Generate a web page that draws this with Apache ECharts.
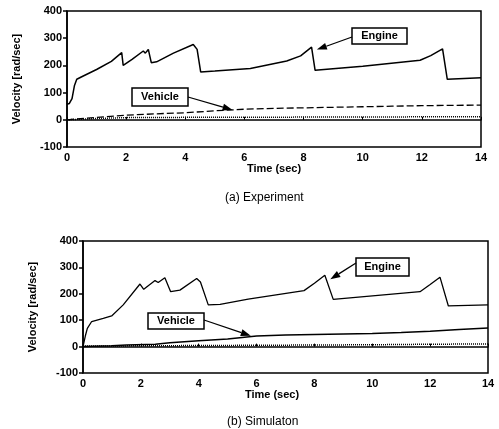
<!DOCTYPE html>
<html><head><meta charset="utf-8">
<script src="https://cdn.jsdelivr.net/npm/echarts@6/dist/echarts.min.js"></script>
<style>html,body{margin:0;padding:0;background:#fff}#c{width:499px;height:429px}</style>
</head><body><div id="c"></div>
<script>
// ---- Data ----
var xTicks = [0, 2, 4, 6, 8, 10, 12, 14];
var yTicks = [-100, 0, 100, 200, 300, 400];

// (a) Experiment
var expEngineT = [0, 0.08, 0.17, 0.25, 0.33, 0.55, 1.0, 1.5, 1.85, 1.9, 2.2, 2.58, 2.65, 2.75, 2.85, 3.03, 3.6, 4.27, 4.4, 4.52, 5.0, 6.2, 7.43, 7.9, 8.27, 8.39, 10.0, 11.94, 12.3, 12.7, 12.86, 14];
var expEngineV = [57, 60, 78, 125, 149, 161, 185, 215, 247, 200, 222, 253, 245, 259, 210, 213, 245, 277, 259, 176, 179, 189, 216, 235, 267, 182, 197, 219, 236, 261, 149, 155];
var expVehicleT = [0, 1, 2, 3, 4, 5, 6, 7, 8, 9, 10, 11, 12, 13, 14];
var expVehicleV = [0, 9, 17, 22, 26, 33, 39, 42, 44, 46, 48, 50, 52, 53, 54];
var expDotT = [0, 1, 2, 4, 6, 8, 10, 12, 14];
var expDotV = [0, 5, 8, 9, 9, 10, 10, 11, 11];

// (b) Simulation
var simEngineT = [0, 0.08, 0.15, 0.3, 0.7, 0.99, 1.39, 1.97, 2.1, 2.49, 2.6, 2.83, 3.03, 3.35, 3.93, 4.06, 4.33, 4.74, 5.71, 7.64, 8.0, 8.36, 8.65, 11.65, 12.0, 12.34, 12.63, 14];
var simEngineV = [0, 40, 69, 95, 107, 116, 158, 237, 217, 250, 243, 261, 208, 214, 258, 245, 158, 160, 180, 212, 240, 270, 179, 208, 235, 263, 154, 158];
var simVehicleT = [0, 1, 1.5, 2.5, 3, 4, 5, 6, 7, 8, 9, 10, 11, 12, 13, 14];
var simVehicleV = [0, 3, 6, 9, 15, 22, 29, 40, 44, 46, 48, 50, 53, 58, 65, 70];
var simDotT = [0, 2, 4, 6, 8, 10, 12, 14];
var simDotV = [2, 3, 4, 5, 6, 7, 9, 10];

// annotation targets (data units): [t, value]
var annotTargets = {
  expEngine: [8.45, 258], expVehicle: [5.6, 36],
  simEngine: [8.55, 255], simVehicle: [5.8, 41]
};

function pairs(t, v) { return t.map(function (x, i) { return [x, v[i]]; }); }

var FONT = 'Liberation Sans';
var labelStyle = { color: '#000', fontFamily: FONT, fontWeight: 'bold', fontSize: 11 };

function xAxis(gi, pad) {
  return {
    type: 'value', gridIndex: gi, min: 0, max: 14, interval: 2,
    name: 'Time (sec)', nameLocation: 'middle', nameGap: 15,
    nameTextStyle: { color: '#000', fontFamily: FONT, fontWeight: 'bold', fontSize: 11, padding: pad },
    axisLine: { show: true, lineStyle: { color: '#000', width: 1.5 } },
    axisTick: { show: true, inside: true, length: 3, lineStyle: { color: '#000' } },
    axisLabel: Object.assign({ margin: 5 }, labelStyle),
    splitLine: { show: false }
  };
}
function yAxis(gi) {
  return {
    type: 'value', gridIndex: gi, min: -100, max: 400, interval: 100,
    name: 'Velocity [rad/sec]', nameLocation: 'middle', nameGap: 45,
    nameTextStyle: { color: '#000', fontFamily: FONT, fontWeight: 'bold', fontSize: 11 },
    axisLine: { show: true, lineStyle: { color: '#000', width: 1.5 } },
    axisTick: { show: true, inside: false, length: 4, lineStyle: { color: '#000', width: 1.5 } },
    axisLabel: Object.assign({ margin: 5 }, labelStyle),
    splitLine: { show: false }
  };
}
function line(gi, data, type, w) {
  return {
    type: 'line', xAxisIndex: gi, yAxisIndex: gi, data: data, symbol: 'none',
    lineStyle: { color: '#000', width: w, type: type }, silent: true, animation: false
  };
}

var chart = echarts.init(document.getElementById('c'), null, { renderer: 'canvas' });
chart.setOption({
  backgroundColor: '#fff',
  animation: false,
  title: [
    { text: '(a) Experiment', left: 220, top: 187, textStyle: { color: '#000', fontFamily: FONT, fontWeight: 'normal', fontSize: 12 } },
    { text: '(b) Simulaton', left: 222, top: 411, textStyle: { color: '#000', fontFamily: FONT, fontWeight: 'normal', fontSize: 12 } }
  ],
  grid: [
    { left: 67, right: 18, top: 11, bottom: 282, show: true, borderColor: '#000', borderWidth: 1.5, backgroundColor: 'transparent' },
    { left: 83, right: 11, top: 241, bottom: 56, show: true, borderColor: '#000', borderWidth: 1.5, backgroundColor: 'transparent' }
  ],
  xAxis: [xAxis(0, [0, 0, 0, 0]), xAxis(1, [0, 27, 0, 0])],
  yAxis: [yAxis(0), yAxis(1)],
  series: [
    line(0, pairs(expEngineT, expEngineV), 'solid', 1.5),
    line(0, pairs(expVehicleT, expVehicleV), [7, 3], 1.3),
    line(0, pairs(expDotT, expDotV), [1, 1], 1.5),
    line(1, pairs(simEngineT, simEngineV), 'solid', 1.3),
    line(1, pairs(simVehicleT, simVehicleV), 'solid', 1.5),
    line(1, pairs(simDotT, simDotV), [1, 1], 1.5)
  ]
});

// annotation boxes with arrows
function annot(gi, text, box, from, target) {
  var tip = chart.convertToPixel({ gridIndex: gi }, target);
  var dx = tip[0] - from[0], dy = tip[1] - from[1];
  var len = Math.sqrt(dx * dx + dy * dy), ux = dx / len, uy = dy / len;
  var hl = 10, hw = 3.5;
  var bx = tip[0] - ux * hl, by = tip[1] - uy * hl;
  return [
    { type: 'rect', shape: { x: box[0], y: box[1], width: box[2], height: box[3] },
      style: { fill: '#fff', stroke: '#000', lineWidth: 1.5 }, z: 100 },
    { type: 'text', x: box[0] + box[2] / 2, y: box[1] + box[3] / 2,
      style: { text: text, fill: '#000', font: 'bold 11px "' + FONT + '"', align: 'center', verticalAlign: 'middle' }, z: 101 },
    { type: 'line', shape: { x1: from[0], y1: from[1], x2: bx, y2: by },
      style: { stroke: '#000', lineWidth: 1.3 }, z: 100 },
    { type: 'polygon', shape: { points: [[tip[0], tip[1]], [bx - uy * hw, by + ux * hw], [bx + uy * hw, by - ux * hw]] },
      style: { fill: '#000' }, z: 100 }
  ];
}
var g = [].concat(
  annot(0, 'Engine', [352, 28, 55, 16], [352, 37], annotTargets.expEngine),
  annot(0, 'Vehicle', [132, 88, 56, 18], [188, 97], annotTargets.expVehicle),
  annot(1, 'Engine', [356, 258, 53, 18], [356, 263], annotTargets.simEngine),
  annot(1, 'Vehicle', [148, 313, 56, 16], [204, 320], annotTargets.simVehicle)
);
chart.setOption({ graphic: g });
</script>
</body></html>
